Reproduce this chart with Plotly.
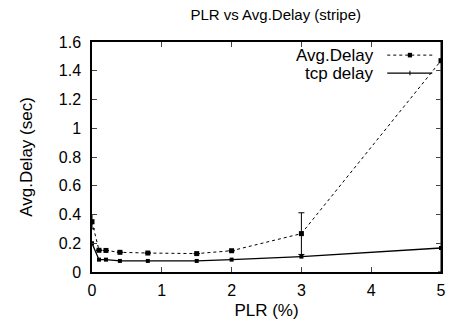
import plotly.graph_objects as go

plr = [0, 0.1, 0.2, 0.4, 0.8, 1.5, 2, 3, 5]
avg_delay = [0.35, 0.151, 0.15, 0.137, 0.132, 0.128, 0.148, 0.267, 1.47]
avg_err = [0.05, 0, 0, 0, 0, 0, 0, 0.145, 1.47]
tcp_delay = [0.2, 0.086, 0.086, 0.077, 0.077, 0.077, 0.086, 0.107, 0.167]

x_ticks = [0, 1, 2, 3, 4, 5]
y_ticks = [0, 0.2, 0.4, 0.6, 0.8, 1, 1.2, 1.4, 1.6]
y_labels = ["0", "0.2", "0.4", "0.6", "0.8", "1", "1.2", "1.4", "1.6"]

FONT = "Liberation Sans, Arial, sans-serif"

fig = go.Figure()
fig.add_trace(go.Scatter(
    x=plr, y=avg_delay, mode="lines+markers", name="Avg.Delay",
    line=dict(color="black", width=1, dash="dot"),
    marker=dict(symbol="square", size=5, color="black"),
    error_y=dict(type="data", array=avg_err, visible=True, color="black",
                 thickness=1, width=3),
    cliponaxis=True, showlegend=False,
))
fig.add_trace(go.Scatter(
    x=plr, y=tcp_delay, mode="lines+markers", name="tcp delay",
    line=dict(color="black", width=1.3),
    marker=dict(symbol="square", size=4, color="black"),
    showlegend=False,
))

# custom gnuplot-style key (text left, sample right)
fig.add_annotation(x=0.815, y=0.943, xref="paper", yref="paper", text="Avg.Delay",
                   showarrow=False, xanchor="right", yanchor="middle",
                   font=dict(family=FONT, size=17, color="black"))
fig.add_annotation(x=0.815, y=0.865, xref="paper", yref="paper", text="tcp delay",
                   showarrow=False, xanchor="right", yanchor="middle",
                   font=dict(family=FONT, size=17, color="black"))
fig.add_shape(type="line", xref="paper", yref="paper", x0=0.846, x1=0.975, y0=0.943, y1=0.943,
              line=dict(color="black", width=1, dash="dot"))
fig.add_shape(type="rect", xref="paper", yref="paper", x0=0.905, x1=0.917, y0=0.933, y1=0.953,
              line=dict(width=0), fillcolor="black")
fig.add_shape(type="line", xref="paper", yref="paper", x0=0.846, x1=0.975, y0=0.865, y1=0.865,
              line=dict(color="black", width=1.3))
fig.add_shape(type="line", xref="paper", yref="paper", x0=0.911, x1=0.911, y0=0.855, y1=0.875,
              line=dict(color="black", width=1))

fig.update_layout(
    width=452, height=330,
    margin=dict(l=92, r=6, t=42, b=58),
    paper_bgcolor="white", plot_bgcolor="white",
    title=dict(text="PLR vs Avg.Delay (stripe)", x=0.61, xanchor="center", y=0.955, yanchor="middle",
               font=dict(family=FONT, size=15, color="black")),
    font=dict(family=FONT, size=16, color="black"),
    xaxis=dict(range=[0, 5], tickvals=x_ticks, ticks="inside", ticklen=5, mirror="ticks",
               showline=True, linecolor="black", linewidth=1.5, showgrid=False, zeroline=False,
               title=dict(text="PLR (%)", font=dict(size=17), standoff=6),
               tickfont=dict(size=16), ticklabelstandoff=3),
    yaxis=dict(range=[0, 1.6], tickvals=y_ticks, ticktext=y_labels, ticks="inside", ticklen=5,
               mirror="ticks", showline=True, linecolor="black", linewidth=1.5, showgrid=False,
               zeroline=False, title=dict(text="Avg.Delay (sec)", font=dict(size=17), standoff=22),
               tickfont=dict(size=16), ticklabelstandoff=6),
)

fig.write_html("out.html")
